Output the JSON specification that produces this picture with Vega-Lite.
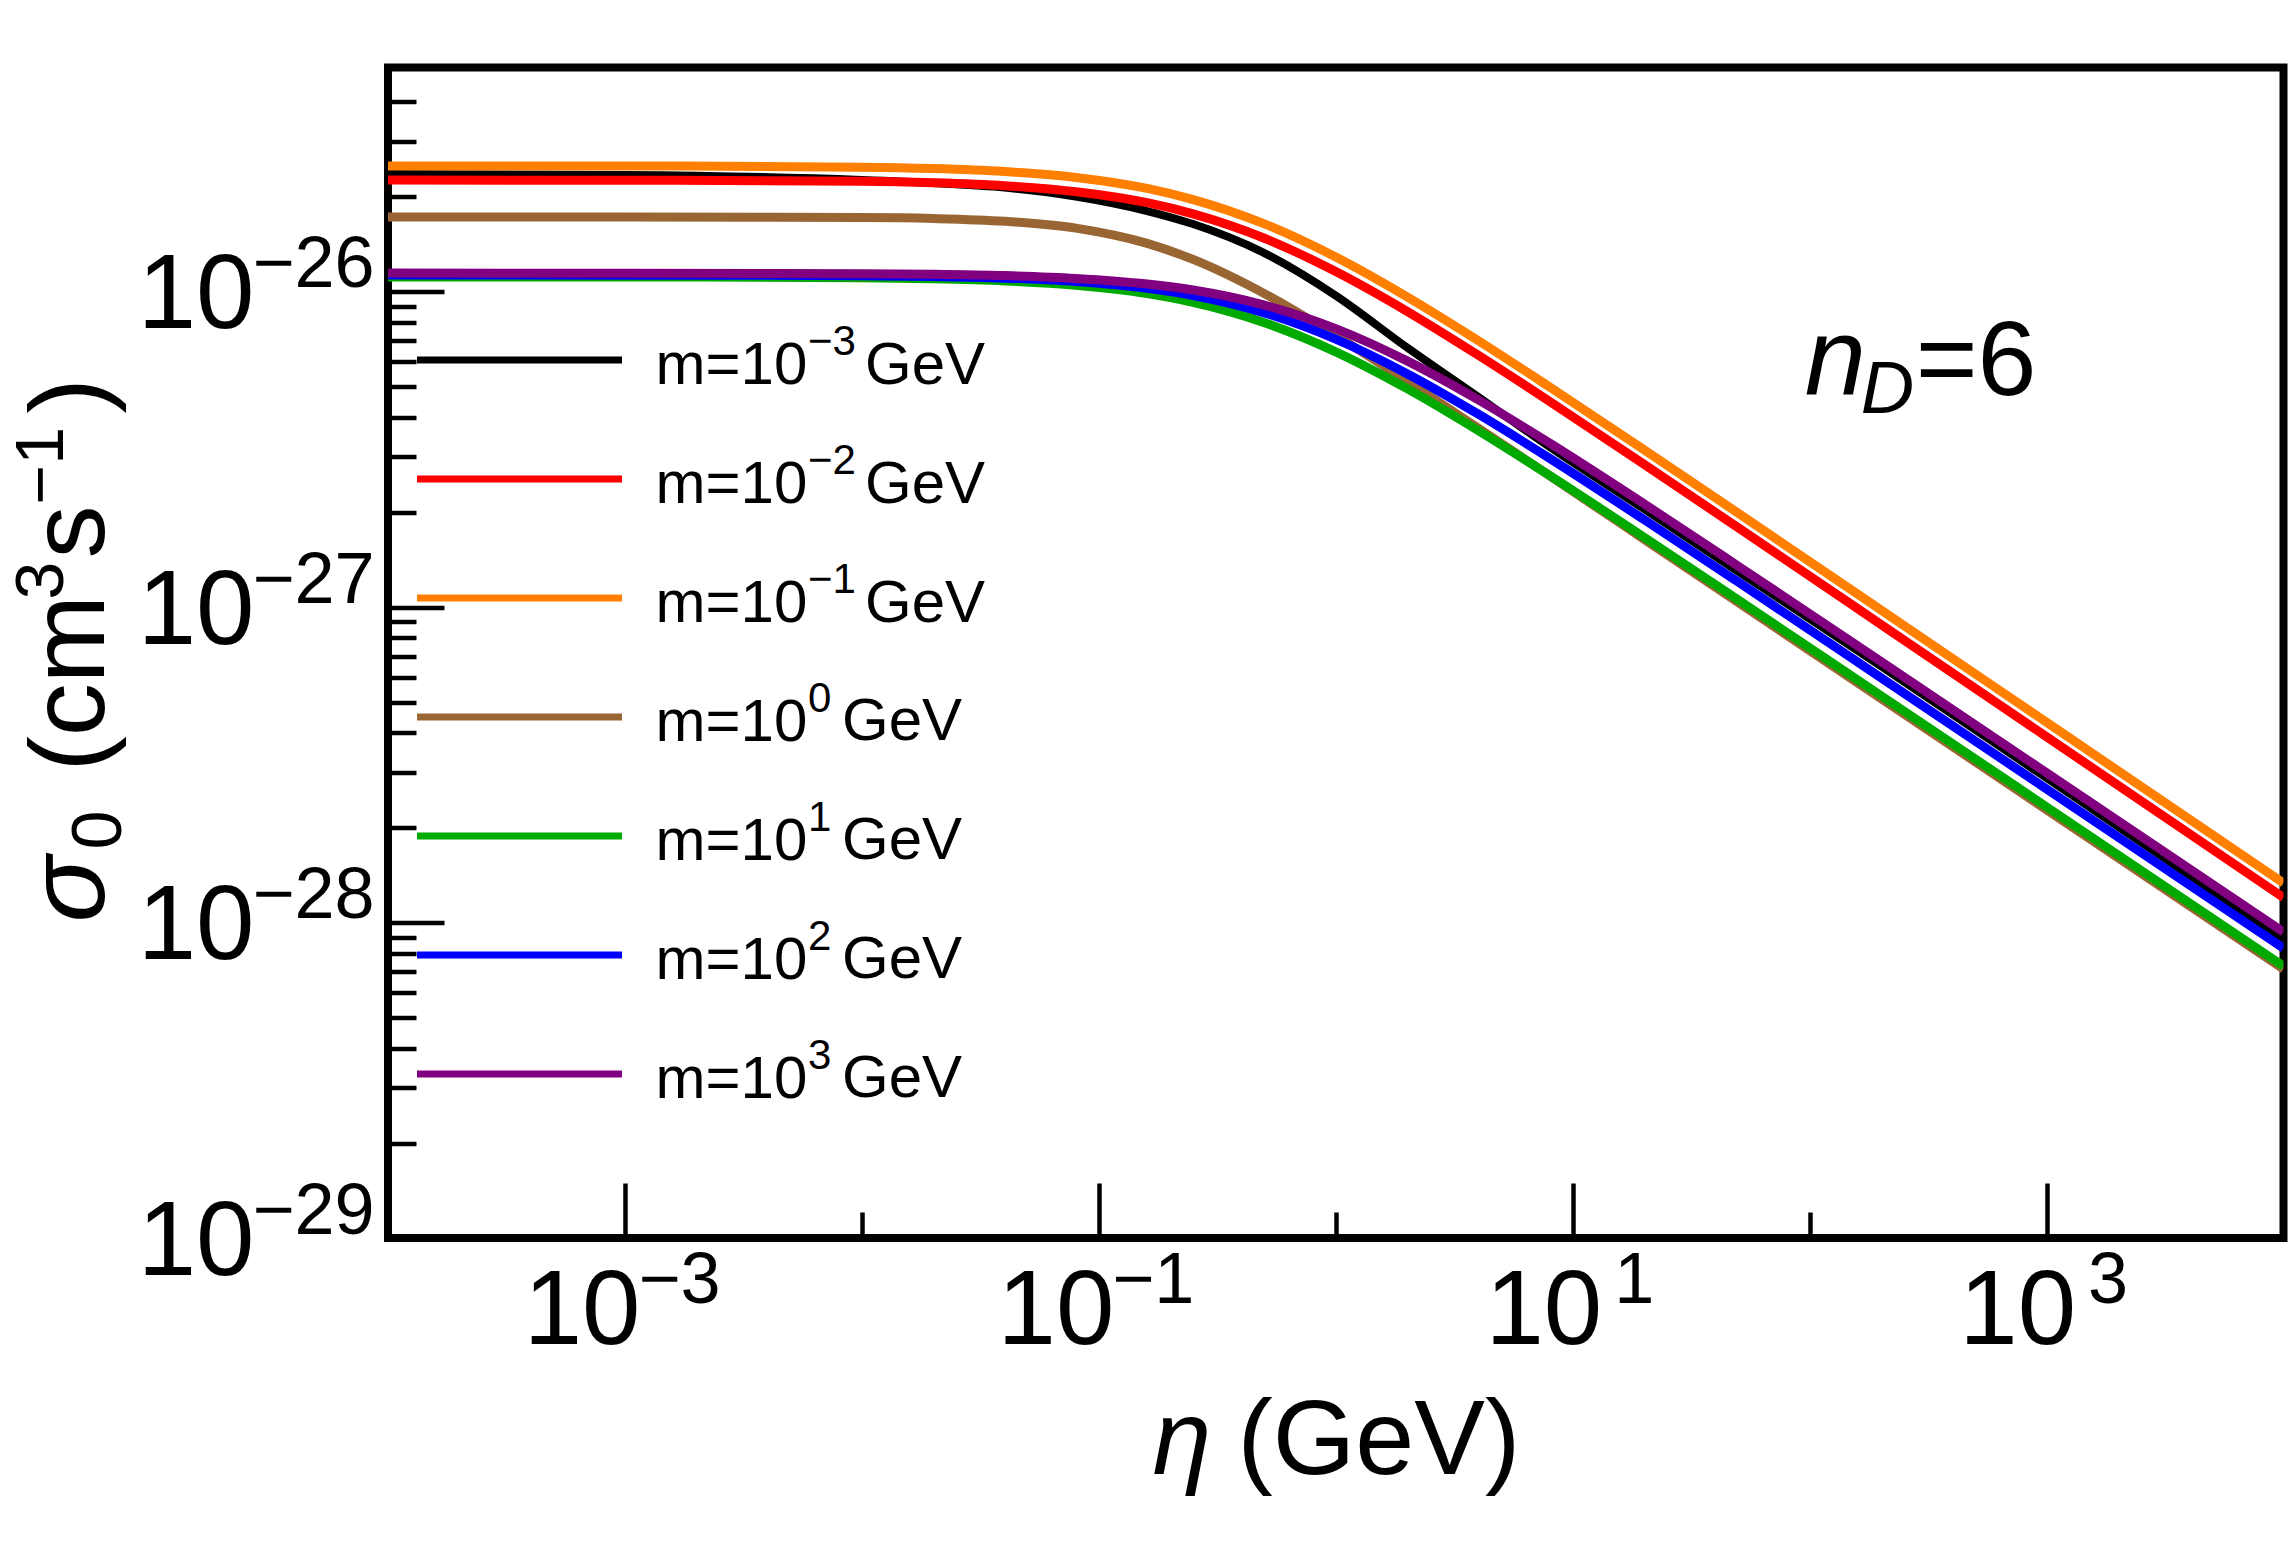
{
  "$schema": "https://vega.github.io/schema/vega-lite/v6.json",
  "width": 1895.5,
  "height": 1170.5,
  "autosize": {"type": "none"},
  "padding": {"left": 388, "top": 67.5, "right": 8.5, "bottom": 325},
  "background": "white",
  "config": {
    "view": {"stroke": "black", "strokeWidth": 8},
    "font": "Liberation Sans",
    "axis": {"grid": false, "domain": false, "labelColor": "black", "titleColor": "black", "tickColor": "black", "labelFont": "Liberation Sans", "titleFont": "Liberation Sans", "titleFontWeight": "normal", "labelFlush": false, "labelOverlap": false, "labelBound": false},
    "legend": {"orient": "none", "title": null, "labelFont": "Liberation Sans", "labelColor": "black", "rowPadding": 59, "clipHeight": 60, "labelLimit": 0, "padding": 0, "offset": 0, "symbolSize": 42025}
  },
  "datasets": {
    "exps": [{"exp": "−3"}, {"exp": "−2"}, {"exp": "−1"}, {"exp": "0"}, {"exp": "1"}, {"exp": "2"}, {"exp": "3"}],
    "unitsNeg": [{"unit": "GeV−3"}, {"unit": "GeV−2"}, {"unit": "GeV−1"}],
    "unitsPos": [{"unit": "GeV0"}, {"unit": "GeV1"}, {"unit": "GeV2"}, {"unit": "GeV3"}],
    "curves": [
      {"mass": "m=10⁻³GeV", "eta": 1e-4, "sigma": 2.361e-26},
      {"mass": "m=10⁻³GeV", "eta": 1e-3, "sigma": 2.344e-26},
      {"mass": "m=10⁻³GeV", "eta": 1e-2, "sigma": 2.261e-26},
      {"mass": "m=10⁻³GeV", "eta": 0.02, "sigma": 2.211e-26},
      {"mass": "m=10⁻³GeV", "eta": 0.04, "sigma": 2.14e-26},
      {"mass": "m=10⁻³GeV", "eta": 0.08, "sigma": 2.004e-26},
      {"mass": "m=10⁻³GeV", "eta": 0.16, "sigma": 1.803e-26},
      {"mass": "m=10⁻³GeV", "eta": 0.25, "sigma": 1.639e-26},
      {"mass": "m=10⁻³GeV", "eta": 0.5, "sigma": 1.326e-26},
      {"mass": "m=10⁻³GeV", "eta": 1, "sigma": 9.726e-27},
      {"mass": "m=10⁻³GeV", "eta": 2, "sigma": 6.654e-27},
      {"mass": "m=10⁻³GeV", "eta": 4, "sigma": 4.636e-27},
      {"mass": "m=10⁻³GeV", "eta": 8, "sigma": 3.218e-27},
      {"mass": "m=10⁻³GeV", "eta": 20, "sigma": 2.047e-27},
      {"mass": "m=10⁻³GeV", "eta": 50, "sigma": 1.297e-27},
      {"mass": "m=10⁻³GeV", "eta": 200, "sigma": 6.505e-28},
      {"mass": "m=10⁻³GeV", "eta": 1000, "sigma": 2.872e-28},
      {"mass": "m=10⁻³GeV", "eta": 1e4, "sigma": 8.866e-29},

      {"mass": "m=10⁻²GeV", "eta": 1e-4, "sigma": 2.259e-26},
      {"mass": "m=10⁻²GeV", "eta": 1e-3, "sigma": 2.258e-26},
      {"mass": "m=10⁻²GeV", "eta": 1e-2, "sigma": 2.239e-26},
      {"mass": "m=10⁻²GeV", "eta": 0.02, "sigma": 2.215e-26},
      {"mass": "m=10⁻²GeV", "eta": 0.04, "sigma": 2.168e-26},
      {"mass": "m=10⁻²GeV", "eta": 0.08, "sigma": 2.076e-26},
      {"mass": "m=10⁻²GeV", "eta": 0.16, "sigma": 1.916e-26},
      {"mass": "m=10⁻²GeV", "eta": 0.25, "sigma": 1.766e-26},
      {"mass": "m=10⁻²GeV", "eta": 0.5, "sigma": 1.478e-26},
      {"mass": "m=10⁻²GeV", "eta": 1, "sigma": 1.159e-26},
      {"mass": "m=10⁻²GeV", "eta": 2, "sigma": 8.67e-27},
      {"mass": "m=10⁻²GeV", "eta": 4, "sigma": 6.288e-27},
      {"mass": "m=10⁻²GeV", "eta": 8, "sigma": 4.489e-27},
      {"mass": "m=10⁻²GeV", "eta": 20, "sigma": 2.838e-27},
      {"mass": "m=10⁻²GeV", "eta": 50, "sigma": 1.785e-27},
      {"mass": "m=10⁻²GeV", "eta": 200, "sigma": 8.817e-28},
      {"mass": "m=10⁻²GeV", "eta": 1000, "sigma": 3.882e-28},
      {"mass": "m=10⁻²GeV", "eta": 1e4, "sigma": 1.2e-28},

      {"mass": "m=10⁻¹GeV", "eta": 1e-4, "sigma": 2.506e-26},
      {"mass": "m=10⁻¹GeV", "eta": 1e-3, "sigma": 2.504e-26},
      {"mass": "m=10⁻¹GeV", "eta": 1e-2, "sigma": 2.483e-26},
      {"mass": "m=10⁻¹GeV", "eta": 0.02, "sigma": 2.458e-26},
      {"mass": "m=10⁻¹GeV", "eta": 0.04, "sigma": 2.405e-26},
      {"mass": "m=10⁻¹GeV", "eta": 0.08, "sigma": 2.304e-26},
      {"mass": "m=10⁻¹GeV", "eta": 0.16, "sigma": 2.126e-26},
      {"mass": "m=10⁻¹GeV", "eta": 0.25, "sigma": 1.96e-26},
      {"mass": "m=10⁻¹GeV", "eta": 0.5, "sigma": 1.641e-26},
      {"mass": "m=10⁻¹GeV", "eta": 1, "sigma": 1.289e-26},
      {"mass": "m=10⁻¹GeV", "eta": 2, "sigma": 9.638e-27},
      {"mass": "m=10⁻¹GeV", "eta": 4, "sigma": 6.995e-27},
      {"mass": "m=10⁻¹GeV", "eta": 8, "sigma": 4.989e-27},
      {"mass": "m=10⁻¹GeV", "eta": 20, "sigma": 3.156e-27},
      {"mass": "m=10⁻¹GeV", "eta": 50, "sigma": 1.984e-27},
      {"mass": "m=10⁻¹GeV", "eta": 200, "sigma": 9.802e-28},
      {"mass": "m=10⁻¹GeV", "eta": 1000, "sigma": 4.315e-28},
      {"mass": "m=10⁻¹GeV", "eta": 1e4, "sigma": 1.334e-28},

      {"mass": "m=10⁰GeV", "eta": 1e-4, "sigma": 1.726e-26},
      {"mass": "m=10⁰GeV", "eta": 1e-3, "sigma": 1.725e-26},
      {"mass": "m=10⁰GeV", "eta": 1e-2, "sigma": 1.719e-26},
      {"mass": "m=10⁰GeV", "eta": 0.02, "sigma": 1.707e-26},
      {"mass": "m=10⁰GeV", "eta": 0.04, "sigma": 1.673e-26},
      {"mass": "m=10⁰GeV", "eta": 0.08, "sigma": 1.591e-26},
      {"mass": "m=10⁰GeV", "eta": 0.16, "sigma": 1.423e-26},
      {"mass": "m=10⁰GeV", "eta": 0.25, "sigma": 1.266e-26},
      {"mass": "m=10⁰GeV", "eta": 0.5, "sigma": 9.865e-27},
      {"mass": "m=10⁰GeV", "eta": 1, "sigma": 7.266e-27},
      {"mass": "m=10⁰GeV", "eta": 2, "sigma": 5.207e-27},
      {"mass": "m=10⁰GeV", "eta": 4, "sigma": 3.693e-27},
      {"mass": "m=10⁰GeV", "eta": 8, "sigma": 2.609e-27},
      {"mass": "m=10⁰GeV", "eta": 20, "sigma": 1.643e-27},
      {"mass": "m=10⁰GeV", "eta": 50, "sigma": 1.034e-27},
      {"mass": "m=10⁰GeV", "eta": 200, "sigma": 5.136e-28},
      {"mass": "m=10⁰GeV", "eta": 1000, "sigma": 2.279e-28},
      {"mass": "m=10⁰GeV", "eta": 1e4, "sigma": 7.124e-29},

      {"mass": "m=10¹GeV", "eta": 1e-4, "sigma": 1.114e-26},
      {"mass": "m=10¹GeV", "eta": 1e-3, "sigma": 1.114e-26},
      {"mass": "m=10¹GeV", "eta": 1e-2, "sigma": 1.107e-26},
      {"mass": "m=10¹GeV", "eta": 0.02, "sigma": 1.099e-26},
      {"mass": "m=10¹GeV", "eta": 0.04, "sigma": 1.082e-26},
      {"mass": "m=10¹GeV", "eta": 0.08, "sigma": 1.048e-26},
      {"mass": "m=10¹GeV", "eta": 0.16, "sigma": 9.863e-27},
      {"mass": "m=10¹GeV", "eta": 0.25, "sigma": 9.255e-27},
      {"mass": "m=10¹GeV", "eta": 0.5, "sigma": 7.98e-27},
      {"mass": "m=10¹GeV", "eta": 1, "sigma": 6.451e-27},
      {"mass": "m=10¹GeV", "eta": 2, "sigma": 4.931e-27},
      {"mass": "m=10¹GeV", "eta": 4, "sigma": 3.628e-27},
      {"mass": "m=10¹GeV", "eta": 8, "sigma": 2.614e-27},
      {"mass": "m=10¹GeV", "eta": 20, "sigma": 1.666e-27},
      {"mass": "m=10¹GeV", "eta": 50, "sigma": 1.054e-27},
      {"mass": "m=10¹GeV", "eta": 200, "sigma": 5.243e-28},
      {"mass": "m=10¹GeV", "eta": 1000, "sigma": 2.327e-28},
      {"mass": "m=10¹GeV", "eta": 1e4, "sigma": 7.275e-29},

      {"mass": "m=10²GeV", "eta": 1e-4, "sigma": 1.13e-26},
      {"mass": "m=10²GeV", "eta": 1e-3, "sigma": 1.129e-26},
      {"mass": "m=10²GeV", "eta": 1e-2, "sigma": 1.124e-26},
      {"mass": "m=10²GeV", "eta": 0.02, "sigma": 1.118e-26},
      {"mass": "m=10²GeV", "eta": 0.04, "sigma": 1.104e-26},
      {"mass": "m=10²GeV", "eta": 0.08, "sigma": 1.077e-26},
      {"mass": "m=10²GeV", "eta": 0.16, "sigma": 1.025e-26},
      {"mass": "m=10²GeV", "eta": 0.25, "sigma": 9.725e-27},
      {"mass": "m=10²GeV", "eta": 0.5, "sigma": 8.568e-27},
      {"mass": "m=10²GeV", "eta": 1, "sigma": 7.075e-27},
      {"mass": "m=10²GeV", "eta": 2, "sigma": 5.499e-27},
      {"mass": "m=10²GeV", "eta": 4, "sigma": 4.09e-27},
      {"mass": "m=10²GeV", "eta": 8, "sigma": 2.963e-27},
      {"mass": "m=10²GeV", "eta": 20, "sigma": 1.895e-27},
      {"mass": "m=10²GeV", "eta": 50, "sigma": 1.201e-27},
      {"mass": "m=10²GeV", "eta": 200, "sigma": 5.977e-28},
      {"mass": "m=10²GeV", "eta": 1000, "sigma": 2.653e-28},
      {"mass": "m=10²GeV", "eta": 1e4, "sigma": 8.294e-29},

      {"mass": "m=10³GeV", "eta": 1e-4, "sigma": 1.146e-26},
      {"mass": "m=10³GeV", "eta": 1e-3, "sigma": 1.145e-26},
      {"mass": "m=10³GeV", "eta": 1e-2, "sigma": 1.141e-26},
      {"mass": "m=10³GeV", "eta": 0.02, "sigma": 1.136e-26},
      {"mass": "m=10³GeV", "eta": 0.04, "sigma": 1.125e-26},
      {"mass": "m=10³GeV", "eta": 0.08, "sigma": 1.102e-26},
      {"mass": "m=10³GeV", "eta": 0.16, "sigma": 1.058e-26},
      {"mass": "m=10³GeV", "eta": 0.25, "sigma": 1.013e-26},
      {"mass": "m=10³GeV", "eta": 0.5, "sigma": 9.075e-27},
      {"mass": "m=10³GeV", "eta": 1, "sigma": 7.642e-27},
      {"mass": "m=10³GeV", "eta": 2, "sigma": 6.038e-27},
      {"mass": "m=10³GeV", "eta": 4, "sigma": 4.543e-27},
      {"mass": "m=10³GeV", "eta": 8, "sigma": 3.311e-27},
      {"mass": "m=10³GeV", "eta": 20, "sigma": 2.127e-27},
      {"mass": "m=10³GeV", "eta": 50, "sigma": 1.349e-27},
      {"mass": "m=10³GeV", "eta": 200, "sigma": 6.722e-28},
      {"mass": "m=10³GeV", "eta": 1000, "sigma": 2.984e-28},
      {"mass": "m=10³GeV", "eta": 1e4, "sigma": 9.328e-29}
    ]
  },
  "resolve": {"axis": {"x": "independent", "y": "independent"}, "scale": {"shape": "independent"}, "legend": {"shape": "independent"}},
  "layer": [
    {
      "data": {"name": "curves"},
      "mark": {"type": "line", "interpolate": "monotone", "clip": true},
      "encoding": {
        "x": {"field": "eta", "type": "quantitative",
          "scale": {"type": "log", "domain": [1e-4, 1e4], "nice": false},
          "axis": {"orient": "bottom", "values": [0.001, 0.01, 0.1, 1, 10, 100, 1000], "labels": false, "domain": false, "grid": false,
            "tickSize": {"condition": {"test": "abs(round(log(datum.value)/LN10)) % 2 == 1", "value": -55}, "value": -26},
            "tickWidth": 4.5, "tickColor": "black",
            "title": "η", "titleFontStyle": "italic", "titleFontSize": 106, "titleAlign": "left", "titleBaseline": "alphabetic", "titleX": 764, "titleY": 235}},
        "y": {"field": "sigma", "type": "quantitative",
          "scale": {"type": "log", "domain": [1e-29, 5.14e-26], "nice": false},
          "axis": {"orient": "left", "values": [2e-29,3e-29,4e-29,5e-29,6e-29,7e-29,8e-29,9e-29,1e-28,2e-28,3e-28,4e-28,5e-28,6e-28,7e-28,8e-28,9e-28,1e-27,2e-27,3e-27,4e-27,5e-27,6e-27,7e-27,8e-27,9e-27,1e-26,2e-26,3e-26,4e-26],
            "labels": false, "domain": false, "grid": false,
            "tickSize": {"condition": {"test": "abs(log(datum.value)/LN10 - round(log(datum.value)/LN10)) < 0.001", "value": -56}, "value": -28},
            "tickWidth": 4.5, "tickColor": "black",
            "title": "σ", "titleFontStyle": "italic", "titleFontSize": 110, "titleAngle": 270, "titleAlign": "left", "titleBaseline": "alphabetic", "titleX": -285, "titleY": 854.5}},
        "strokeWidth": {"condition": {"test": "datum.mass == 'm=10⁻³GeV'", "value": 8}, "value": 9},
        "color": {"field": "mass", "type": "nominal",
          "scale": {"domain": ["m=10⁻³GeV", "m=10⁻²GeV", "m=10⁻¹GeV", "m=10⁰GeV", "m=10¹GeV", "m=10²GeV", "m=10³GeV"],
                    "range": ["#000000", "#FF0000", "#FF8000", "#996633", "#00AA00", "#0000FF", "#800080"]},
          "legend": {"legendX": 25.5, "legendY": 268,
            "symbolType": "M-1,-0.0537H1", "symbolStrokeWidth": 7,
            "labelFontSize": 60, "labelExpr": "'m=10'", "labelOffset": 30}}
      }
    },
    {
      "data": {"name": "exps"},
      "mark": {"type": "point", "opacity": 0},
      "encoding": {
        "shape": {"field": "exp", "type": "nominal",
          "scale": {"domain": ["−3", "−2", "−1", "0", "1", "2", "3"],
                    "range": ["M-1,-0.2927H1V0.2927H-1Z", "M-1,-0.2927H1V0.2927H-1Z", "M-1,-0.2927H1V0.2927H-1Z", "M-1,-0.2927H1V0.2927H-1Z", "M-1,-0.2927H1V0.2927H-1Z", "M-1,-0.2927H1V0.2927H-1Z", "M-1,-0.2927H1V0.2927H-1Z"]},
          "legend": {"legendX": 25.5, "legendY": 257.5, "rowPadding": 55, "symbolStrokeWidth": 0, "symbolOpacity": 0,
            "labelFontSize": 42, "labelBaseline": "alphabetic", "labelOffset": 189.5}}
      }
    },
    {
      "data": {"name": "unitsNeg"},
      "mark": {"type": "point", "opacity": 0},
      "encoding": {
        "shape": {"field": "unit", "type": "nominal",
          "scale": {"domain": ["GeV−3", "GeV−2", "GeV−1"],
                    "range": ["M-1,-0.2927H1V0.2927H-1Z", "M-1,-0.2927H1V0.2927H-1Z", "M-1,-0.2927H1V0.2927H-1Z"]},
          "legend": {"legendX": 25.5, "legendY": 268, "symbolStrokeWidth": 0, "symbolOpacity": 0,
            "labelFontSize": 60, "labelExpr": "'GeV'", "labelOffset": 246.5}}
      }
    },
    {
      "data": {"name": "unitsPos"},
      "mark": {"type": "point", "opacity": 0},
      "encoding": {
        "shape": {"field": "unit", "type": "nominal",
          "scale": {"domain": ["GeV0", "GeV1", "GeV2", "GeV3"],
                    "range": ["M-1,-0.2927H1V0.2927H-1Z", "M-1,-0.2927H1V0.2927H-1Z", "M-1,-0.2927H1V0.2927H-1Z", "M-1,-0.2927H1V0.2927H-1Z"]},
          "legend": {"legendX": 25.5, "legendY": 624.7, "symbolStrokeWidth": 0, "symbolOpacity": 0,
            "labelFontSize": 60, "labelExpr": "'GeV'", "labelOffset": 223.5}}
      }
    },
    {
      "data": {"values": [{}]},
      "mark": {"type": "text", "text": "n", "font": "Liberation Sans", "fontStyle": "italic", "fontSize": 110, "align": "left", "baseline": "alphabetic", "dx": -5, "dy": 8, "color": "black"},
      "encoding": {
        "x": {"datum": 100, "type": "quantitative",
          "scale": {"type": "log", "domain": [1e-4, 1e4], "nice": false},
          "axis": {"orient": "bottom", "values": [0.001, 0.1, 10, 1000], "ticks": false, "tickSize": 0, "domain": false, "grid": false,
            "labelExpr": "'10'", "labelFontSize": 105, "labelAlign": "right", "labelBaseline": "alphabetic", "labelPadding": 105,
            "labelOffset": {"condition": {"test": "datum.value < 1", "value": 15}, "value": 29},
            "title": "(GeV)", "titleFontSize": 106, "titleAlign": "left", "titleBaseline": "alphabetic", "titleX": 849, "titleY": 235}},
        "y": {"datum": 5e-27, "type": "quantitative",
          "scale": {"type": "log", "domain": [1e-29, 5.14e-26], "nice": false},
          "axis": {"orient": "left", "values": [1e-29, 1e-28, 1e-27, 1e-26], "ticks": false, "tickSize": 0, "domain": false, "grid": false,
            "labelExpr": "'10'", "labelFontSize": 105, "labelAlign": "right", "labelBaseline": "middle", "labelPadding": 134, "labelOffset": 4,
            "title": "0", "titleFontSize": 70, "titleAngle": 270, "titleAlign": "left", "titleBaseline": "alphabetic", "titleX": -268, "titleY": 781.5}}
      }
    },
    {
      "data": {"values": [{}]},
      "mark": {"type": "text", "text": "D", "font": "Liberation Sans", "fontStyle": "italic", "fontSize": 74, "align": "left", "baseline": "alphabetic", "dx": 51, "dy": 26, "color": "black"},
      "encoding": {
        "x": {"datum": 100, "type": "quantitative",
          "scale": {"type": "log", "domain": [1e-4, 1e4], "nice": false},
          "axis": {"orient": "bottom", "values": [0.001, 0.1, 10, 1000], "ticks": false, "tickSize": 0, "domain": false, "grid": false,
            "labelExpr": "datum.value < 0.01 ? '−3' : datum.value < 1 ? '−1' : datum.value < 100 ? '1' : '3'",
            "labelFontSize": 72, "labelAlign": "left", "labelBaseline": "alphabetic", "labelPadding": 64,
            "labelOffset": {"condition": {"test": "datum.value < 1", "value": 13}, "value": 41},
            "title": null}},
        "y": {"datum": 5e-27, "type": "quantitative",
          "scale": {"type": "log", "domain": [1e-29, 5.14e-26], "nice": false},
          "axis": {"orient": "left", "values": [1e-29, 1e-28, 1e-27, 1e-26], "ticks": false, "tickSize": 0, "domain": false, "grid": false,
            "labelExpr": "datum.value < 1e-28 ? '−29' : datum.value < 1e-27 ? '−28' : datum.value < 1e-26 ? '−27' : '−26'",
            "labelFontSize": 72, "labelAlign": "left", "labelBaseline": "alphabetic", "labelPadding": 136, "labelOffset": -5,
            "title": "(cm", "titleFontSize": 106, "titleAngle": 270, "titleAlign": "left", "titleBaseline": "alphabetic", "titleX": -285, "titleY": 703.5}}
      }
    },
    {
      "data": {"values": [{}]},
      "mark": {"type": "text", "text": "=6", "font": "Liberation Sans", "fontSize": 106, "align": "left", "baseline": "alphabetic", "dx": 106, "dy": 8, "color": "black"},
      "encoding": {
        "x": {"datum": 100, "type": "quantitative", "scale": {"type": "log", "domain": [1e-4, 1e4], "nice": false}, "axis": null},
        "y": {"datum": 5e-27, "type": "quantitative",
          "scale": {"type": "log", "domain": [1e-29, 5.14e-26], "nice": false},
          "axis": {"orient": "left", "values": [], "labels": false, "ticks": false, "domain": false, "grid": false,
            "title": "3", "titleFontSize": 68, "titleAngle": 270, "titleAlign": "left", "titleBaseline": "alphabetic", "titleX": -326, "titleY": 531.5}}
      }
    },
    {
      "data": {"values": [{}]},
      "mark": {"type": "text", "text": "", "opacity": 0},
      "encoding": {
        "x": {"datum": 100, "type": "quantitative", "scale": {"type": "log", "domain": [1e-4, 1e4], "nice": false}, "axis": null},
        "y": {"datum": 5e-27, "type": "quantitative",
          "scale": {"type": "log", "domain": [1e-29, 5.14e-26], "nice": false},
          "axis": {"orient": "left", "values": [], "labels": false, "ticks": false, "domain": false, "grid": false,
            "title": "s", "titleFontSize": 106, "titleAngle": 270, "titleAlign": "left", "titleBaseline": "alphabetic", "titleX": -285, "titleY": 490.5}}
      }
    },
    {
      "data": {"values": [{}]},
      "mark": {"type": "text", "text": "", "opacity": 0},
      "encoding": {
        "x": {"datum": 100, "type": "quantitative", "scale": {"type": "log", "domain": [1e-4, 1e4], "nice": false}, "axis": null},
        "y": {"datum": 5e-27, "type": "quantitative",
          "scale": {"type": "log", "domain": [1e-29, 5.14e-26], "nice": false},
          "axis": {"orient": "left", "values": [], "labels": false, "ticks": false, "domain": false, "grid": false,
            "title": "−1", "titleFontSize": 68, "titleAngle": 270, "titleAlign": "left", "titleBaseline": "alphabetic", "titleX": -326, "titleY": 436.5}}
      }
    },
    {
      "data": {"values": [{}]},
      "mark": {"type": "text", "text": "", "opacity": 0},
      "encoding": {
        "x": {"datum": 100, "type": "quantitative", "scale": {"type": "log", "domain": [1e-4, 1e4], "nice": false}, "axis": null},
        "y": {"datum": 5e-27, "type": "quantitative",
          "scale": {"type": "log", "domain": [1e-29, 5.14e-26], "nice": false},
          "axis": {"orient": "left", "values": [], "labels": false, "ticks": false, "domain": false, "grid": false,
            "title": ")", "titleFontSize": 106, "titleAngle": 270, "titleAlign": "left", "titleBaseline": "alphabetic", "titleX": -285, "titleY": 345.5}}
      }
    }
  ]
}
